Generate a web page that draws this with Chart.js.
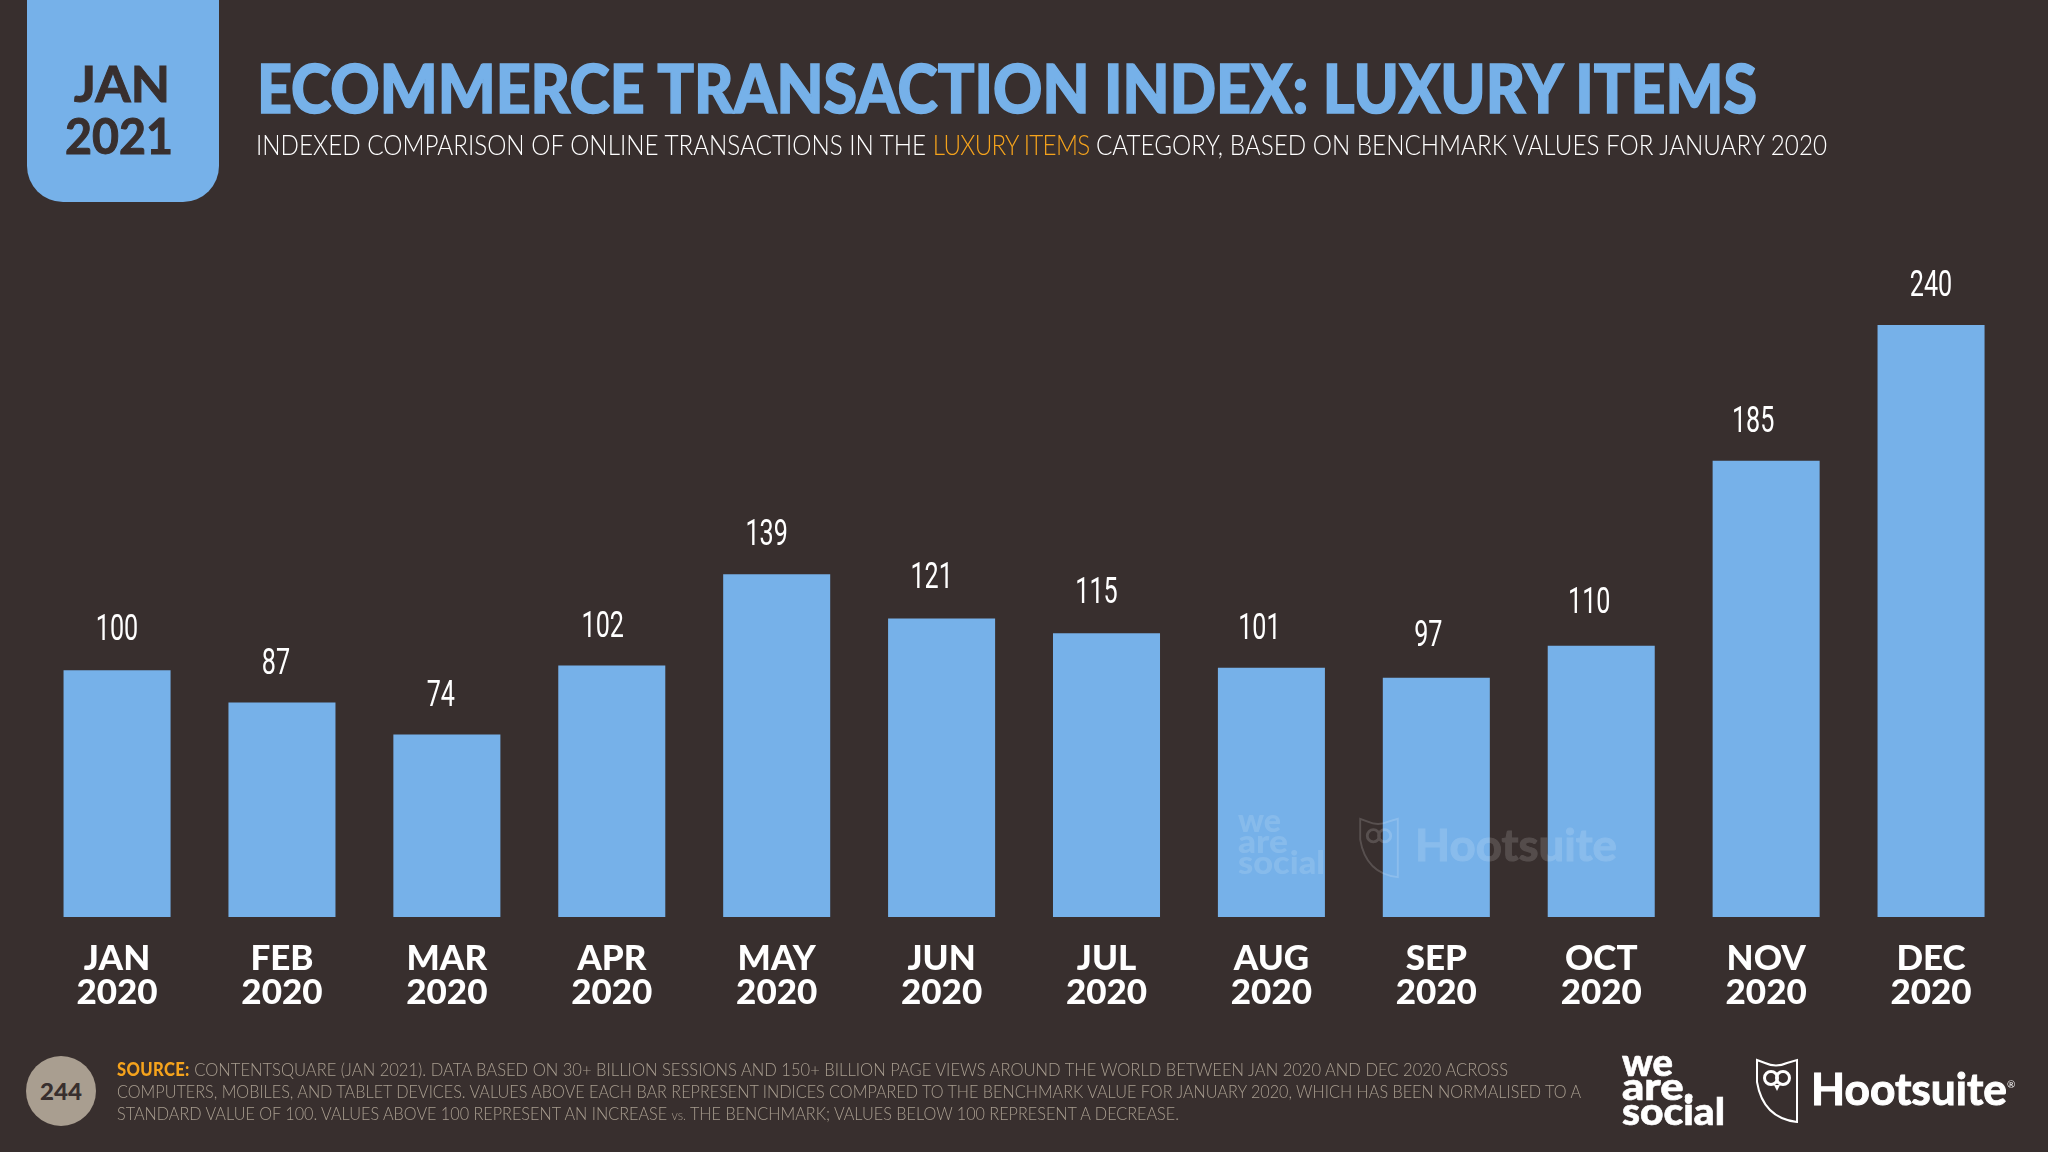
<!DOCTYPE html>
<html><head><meta charset="utf-8">
<style>
html,body{margin:0;padding:0;background:#382f2e;width:2048px;height:1152px;overflow:hidden}
#wrap{position:relative;width:2048px;height:1152px}
canvas{position:absolute;left:0;top:0}
.t{position:absolute;white-space:nowrap;transform-origin:0 0;line-height:1;font-family:Lato,sans-serif}
#tab{position:absolute;left:27px;top:0;width:192px;height:202px;background:#76b1e9;border-radius:0 0 36px 36px}
#dot{position:absolute;left:26px;top:1056px;width:70px;height:70px;border-radius:50%;background:#a99e90}
</style></head><body>
<div id="wrap">
<canvas id="c" width="2048" height="1152"></canvas>
<div id="tab"></div>
<div class="t" data-w="96" style="left:74px;top:58px;font-size:50px;font-weight:700;color:#382f2e;-webkit-text-stroke:1px #382f2e">JAN</div>
<div class="t" data-w="108" style="left:65px;top:110px;font-size:50px;font-weight:700;color:#382f2e;-webkit-text-stroke:1px #382f2e">2021</div>
<div class="t" data-w="1500" style="left:257px;top:55px;font-size:66px;font-weight:900;color:#76b1e9;-webkit-text-stroke:1.5px #76b1e9">ECOMMERCE TRANSACTION INDEX: LUXURY ITEMS</div>
<div class="t" data-w="1571" style="left:256px;top:130px;font-size:28px;font-weight:300;color:#fff">INDEXED COMPARISON OF ONLINE TRANSACTIONS IN THE <span style="color:#f5a31c;letter-spacing:-.85px">LUXURY ITEMS</span> CATEGORY, BASED ON BENCHMARK VALUES FOR JANUARY 2020</div>
<div id="dot"></div>
<div class="t" data-w="42" style="left:40px;top:1081px;font-size:22px;font-weight:900;color:#382f2e">244</div>
<div class="t" data-w="1391" style="left:117px;top:1060px;font-size:18px;font-weight:300;color:#a99e90"><span style="color:#f5a31c;font-weight:900;letter-spacing:.4px">SOURCE:</span> CONTENTSQUARE (JAN 2021). DATA BASED ON 30+ BILLION SESSIONS AND 150+ BILLION PAGE VIEWS AROUND THE WORLD BETWEEN JAN 2020 AND DEC 2020 ACROSS</div>
<div class="t" data-w="1464" style="left:117px;top:1082px;font-size:18px;font-weight:300;color:#a99e90">COMPUTERS, MOBILES, AND TABLET DEVICES. VALUES ABOVE EACH BAR REPRESENT INDICES COMPARED TO THE BENCHMARK VALUE FOR JANUARY 2020, WHICH HAS BEEN NORMALISED TO A</div>
<div class="t" data-w="1062" style="left:117px;top:1104px;font-size:18px;font-weight:300;color:#a99e90">STANDARD VALUE OF 100. VALUES ABOVE 100 REPRESENT AN INCREASE <span style="font-size:14px">vs.</span> THE BENCHMARK; VALUES BELOW 100 REPRESENT A DECREASE.</div>

<div class="t" data-w="51" style="left:1622px;top:1047px;font-size:38px;font-weight:900;color:#fff;line-height:28px;-webkit-text-stroke:.6px #fff">we</div>
<div class="t" data-w="72" style="left:1622px;top:1071px;font-size:38px;font-weight:900;color:#fff;line-height:28px;-webkit-text-stroke:.6px #fff">are.</div>
<div class="t" data-w="103" style="left:1622px;top:1096px;font-size:38px;font-weight:900;color:#fff;line-height:28px;-webkit-text-stroke:.6px #fff">social</div>
<svg style="position:absolute;left:1755px;top:1058px" width="44" height="66" viewBox="0 0 44 66"><path d="M2 2 L10 5 Q21 10 32 5 L42 2 V64 Q8 60 2 24 Z" fill="none" stroke="#fff" stroke-width="2"/><circle cx="16" cy="20" r="6.5" fill="none" stroke="#fff" stroke-width="3"/><circle cx="28" cy="20" r="6.5" fill="none" stroke="#fff" stroke-width="3"/><path d="M19 27 L25 27 L22 33 Z" fill="#fff"/></svg>
<div class="t" data-w="196" style="left:1811px;top:1066px;font-size:44px;font-weight:700;color:#fff;-webkit-text-stroke:1px #fff">Hootsuite</div>
<div class="t" style="left:2007px;top:1079px;font-size:10px;color:#fff">®</div>

<div class="t" data-w="43" style="left:1238px;top:808px;font-size:32px;font-weight:900;color:#fff;opacity:.13;line-height:24px">we</div>
<div class="t" data-w="50" style="left:1238px;top:829px;font-size:32px;font-weight:900;color:#fff;opacity:.13;line-height:24px">are</div>
<div class="t" data-w="87" style="left:1238px;top:850px;font-size:32px;font-weight:900;color:#fff;opacity:.13;line-height:24px">social</div>
<svg style="position:absolute;left:1358px;top:817px;opacity:.16" width="42" height="62" viewBox="0 0 44 66"><path d="M2 2 L10 5 Q21 10 32 5 L42 2 V64 Q8 60 2 24 Z" fill="none" stroke="#fff" stroke-width="2"/><circle cx="16" cy="20" r="6.5" fill="none" stroke="#fff" stroke-width="3"/><circle cx="28" cy="20" r="6.5" fill="none" stroke="#fff" stroke-width="3"/></svg>
<div class="t" data-w="202" style="left:1415px;top:822px;font-size:44px;font-weight:700;color:#fff;opacity:.14;-webkit-text-stroke:1px #fff">Hootsuite</div>
</div>
<script src="https://cdn.jsdelivr.net/npm/chart.js@4"></script>
<script>
const months = ["JAN","FEB","MAR","APR","MAY","JUN","JUL","AUG","SEP","OCT","NOV","DEC"];
const years = ["2020","2020","2020","2020","2020","2020","2020","2020","2020","2020","2020","2020"];
const indexValues = [100,87,74,102,139,121,115,101,97,110,185,240];
const labelShiftX = [0,-6,-6,-9,-10,-10,-10,-12,-8,-12,-13,0];
const labelLift = [40,38,38,38,38,40,40,38,41,42,38,38];
const categories = months.map((m,i)=>[m,years[i]]);

document.querySelectorAll('.t[data-w]').forEach(el=>{
  const w = el.getBoundingClientRect().width;
  el.style.transform = 'scaleX(' + (parseFloat(el.dataset.w)/w) + ')';
});

const valueLabels = {
  id:'valueLabels',
  afterDatasetsDraw(chart){
    const ctx = chart.ctx, meta = chart.getDatasetMeta(0);
    ctx.save();
    ctx.fillStyle = '#ffffff';
    ctx.textAlign = 'center';
    ctx.textBaseline = 'middle';
    ctx.font = '400 37px "Roboto",sans-serif';
    meta.data.forEach((bar,i)=>{
      ctx.save();
      ctx.translate(bar.x + labelShiftX[i], bar.y - labelLift[i]);
      ctx.scale(0.68,1);
      ctx.fillText(String(indexValues[i]),0,0);
      ctx.restore();
    });
    ctx.restore();
  }
};

Chart.defaults.animation = false;
new Chart(document.getElementById('c'),{
  type:'bar',
  data:{labels:categories,datasets:[{data:indexValues,backgroundColor:'#76b1e9',borderWidth:0,barPercentage:1,categoryPercentage:0.649}]},
  options:{
    responsive:false,devicePixelRatio:1,
    layout:{padding:{left:34.6,right:34.5,top:177,bottom:0}},
    plugins:{legend:{display:false},tooltip:{enabled:false},title:{display:false}},
    scales:{
      y:{display:false,min:0,max:300},
      x:{
        offset:true,
        grid:{display:false,drawBorder:false},
        border:{display:false},
        afterFit(s){s.height=235;},
        ticks:{color:'#ffffff',font:{family:'Lato',weight:'900',size:35,lineHeight:34/35},padding:17,maxRotation:0,autoSkip:false}
      }
    }
  },
  plugins:[valueLabels]
});
</script>
</body></html>
